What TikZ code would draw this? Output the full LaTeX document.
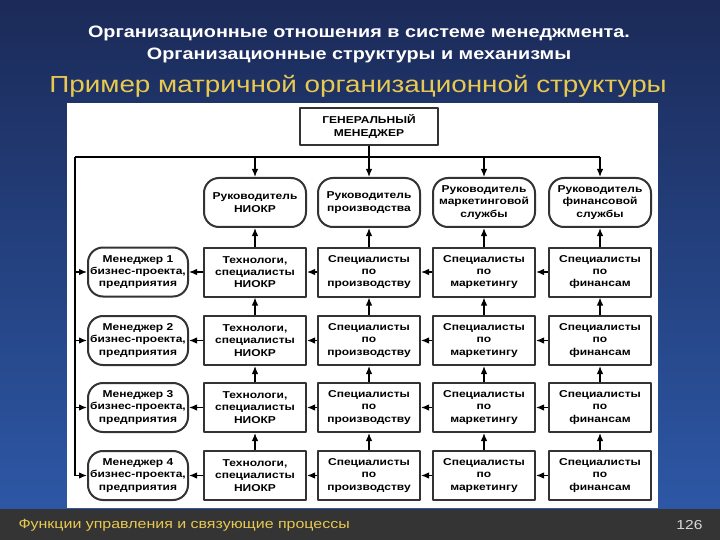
\documentclass[tikz,border=0pt]{standalone}
\usepackage{fontspec}
\setmainfont{Liberation Sans}[FakeStretch=1.2]
\usetikzlibrary{arrows.meta}
\definecolor{navy}{RGB}{27,42,88}
\definecolor{lightnavy}{RGB}{46,90,170}
\definecolor{footbar}{RGB}{52,52,52}
\definecolor{gold}{RGB}{232,201,80}

\begin{document}
\begin{tikzpicture}[x=1pt,y=-1pt,line join=round,>={Latex[length=8pt,width=6.5pt]},
	box/.style={draw=black!80,line width=2pt,fill=white,minimum width=102pt,minimum height=49pt,
		inner sep=1pt,align=center,font=\bfseries\fontsize{10}{12.3}\selectfont},
	headbox/.style={box,rounded corners=15pt},
	link/.style={line width=1.3pt}]
	\useasboundingbox (0,0) rectangle (720,540);
	% background, panel, footer
	\fill[top color=navy,bottom color=lightnavy] (0,0) rectangle (720,540);
	\fill[footbar] (0,509) rectangle (720,540);
	\fill[white] (67,103) rectangle (658,508);
	\node[text=white,font=\bfseries\fontsize{16.5}{20}\selectfont] (title1) at (359,33.5) {Организационные отношения в системе менеджмента.};
	\node[text=white,font=\bfseries\fontsize{16.5}{20}\selectfont] (title2) at (359,55) {Организационные структуры и механизмы};
	\node[text=gold,font=\fontsize{23.2}{28}\selectfont] (title3) at (358,86) {Пример матричной организационной структуры};
	\node[anchor=west,text=gold,font=\fontsize{13.3}{15}\selectfont] (foot) at (15,525) {Функции управления и связующие процессы};
	\node[anchor=east,text=black!15,font=\fontsize{13}{15}\selectfont] (page) at (706,525) {126};
	% chart
	\node[box,minimum width=138pt,minimum height=37pt] (gm) at (369,126.5) {ГЕНЕРАЛЬНЫЙ\\МЕНЕДЖЕР};
	\foreach \c/\x/\t in {1/255/{Руководитель\\НИОКР},2/369/{Руководитель\\производства},
		3/484/{Руководитель\\маркетинговой\\службы},4/600/{Руководитель\\финансовой\\службы}}
		\node[headbox] (h\c) at (\x,202.5) {\t};
	\foreach \r/\y in {1/272,2/340.5,3/407.5,4/475.5}{
		\node[headbox,minimum width=100pt] (m\r) at (138,\y) {Менеджер \r\\бизнес-проекта,\\предприятия};
		\foreach \c/\x/\t in {1/255/{Технологи,\\специалисты\\НИОКР},2/369/{Специалисты\\по\\производству},
			3/484/{Специалисты\\по\\маркетингу},4/600/{Специалисты\\по\\финансам}}
			\node[box] (b\r\c) at (\x,\y) {\t};
	}
	\coordinate (tl) at (75,157);
	\draw[link] (tl) -- (tl -| h4.north) (tl) -- (tl |- m4);
	\draw[link] (gm.south) -- (tl -| gm.south);
	\foreach \c in {1,...,4}{
		\draw[link,->] (tl -| h\c.north) -- (h\c.north);
		\draw[link,->] (b1\c.north) -- (h\c.south);
		\foreach \r [count=\p] in {2,3,4}
			\draw[link,->] (b\r\c.north) -- (b\p\c.south);
	}
	\foreach \r in {1,...,4}{
		\draw[link,->] (tl |- m\r) -- (m\r.west);
		\draw[link,->] (b\r1.west) -- (m\r.east);
		\foreach \c [count=\p] in {2,3,4}
			\draw[link,->] (b\r\c.west) -- (b\r\p.east);
	}
\end{tikzpicture}
\end{document}
